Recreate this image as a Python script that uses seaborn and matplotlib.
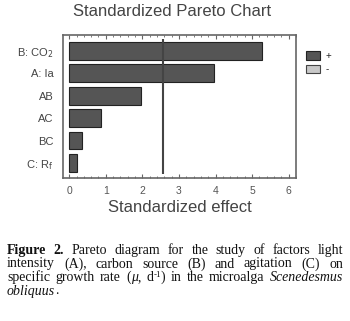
import matplotlib
matplotlib.use("Agg")
import matplotlib.pyplot as plt
from matplotlib.patches import Patch
from matplotlib.ticker import MultipleLocator
import seaborn as sns
import pandas as pd

# dados
fatores = ["B: CO$_2$", "A: Ia", "AB", "AC", "BC", "C: R$_\\mathrm{f}$"]
efeitos = [5.27, 3.95, 1.96, 0.88, 0.34, 0.21]
limite_critico = 2.57
xticks = [0, 1, 2, 3, 4, 5, 6]

sns.set_theme(style="white")
plt.rcParams['font.family'] = ['Liberation Sans', 'DejaVu Sans']

fig = plt.figure(figsize=(3.5, 3.21), dpi=100)
ax = fig.add_axes([63/350, 1 - 178/321, 233/350, 143/321])

df = pd.DataFrame({"fator": fatores, "efeito": efeitos})
sns.barplot(data=df, x="efeito", y="fator", orient="h", color="#555555",
            saturation=1, width=0.8, edgecolor="#222222", linewidth=0.8, ax=ax)

ax.vlines(limite_critico, -0.53, 5.49, color="#444444", lw=1.5)

ax.set_xlim(-0.17, 6.2)
ax.set_ylim(5.67, -0.7)
ax.set_xticks(xticks)
ax.xaxis.set_minor_locator(MultipleLocator(0.2))
ax.tick_params(axis="x", which="both", direction="in", top=True, bottom=True,
               color="#666666", labelsize=7.5, labelcolor="#555555", pad=6)
ax.tick_params(axis="x", which="major", length=3, width=0.8)
ax.tick_params(axis="x", which="minor", length=1.5, width=0.6)
ax.tick_params(axis="y", length=0, labelsize=8, labelcolor="#444444", pad=7)
for s in ax.spines.values():
    s.set_color("#666666")
    s.set_linewidth(1.2)

ax.set_ylabel("")
ax.set_xlabel("Standardized effect", fontsize=12, color="#444444", labelpad=3)
fig.text(172/350, 1 - 12/321, "Standardized Pareto Chart", fontsize=12,
         color="#444444", ha="center", va="center")

handles = [Patch(facecolor="#555555", edgecolor="#222222", lw=0.8),
           Patch(facecolor="#c8c8c8", edgecolor="#444444", lw=0.8)]
fig.legend(handles, ["+", "-"], loc="upper left",
           bbox_to_anchor=(301/350, 1 - 46/321), frameon=False, fontsize=7,
           handlelength=1.5, handleheight=1.0, labelspacing=0.35,
           borderpad=0, handletextpad=0.5)

# legenda da figura (texto justificado, palavra por palavra)
serif = ['Liberation Serif', 'DejaVu Serif']
normal = dict(family=serif, fontsize=10, color="#111111")
negrito = dict(normal, weight="bold")
italico = dict(normal, style="italic")
sobrescrito = dict(normal, fontsize=6.5)

# cada palavra: lista de (texto, estilo, deslocamento vertical em px)
N, B, I, S = normal, negrito, italico, sobrescrito
linhas = [
    ([[("Figure", B, 0)], [("2.", B, 0)], [("Pareto", N, 0)], [("diagram", N, 0)],
      [("for", N, 0)], [("the", N, 0)], [("study", N, 0)], [("of", N, 0)],
      [("factors", N, 0)], [("light", N, 0)]], True),
    ([[("intensity", N, 0)], [("(A),", N, 0)], [("carbon", N, 0)], [("source", N, 0)],
      [("(B)", N, 0)], [("and", N, 0)], [("agitation", N, 0)], [("(C)", N, 0)],
      [("on", N, 0)]], True),
    ([[("specific", N, 0)], [("growth", N, 0)], [("rate", N, 0)],
      [("(", N, 0), ("μ", I, 0), (",", N, 0)], [("d", N, 0), ("-1", S, 4), (")", N, 0)],
      [("in", N, 0)], [("the", N, 0)], [("microalga", N, 0)],
      [("Scenedesmus", I, 0)]], True),
    ([[("obliquus", I, 0), (".", N, 0)]], False),
]
y_linhas = [254, 267.5, 281, 294.5]
x0, x1 = 7, 343

renderer = fig.canvas.get_renderer()
for (palavras, justificar), yp in zip(linhas, y_linhas):
    pecas = []
    larguras = []
    for palavra in palavras:
        itens = []
        for txt, st, dy in palavra:
            t = fig.text(0, 1 - (yp - dy)/321, txt, va="baseline", ha="left", **st)
            itens.append((t, t.get_window_extent(renderer).width))
        pecas.append(itens)
        larguras.append(sum(w for _, w in itens))
    if justificar:
        gap = max((x1 - x0 - sum(larguras)) / (len(pecas) - 1), 2.0)
    else:
        gap = 0
    x = x0
    for itens, wtot in zip(pecas, larguras):
        xi = x
        for t, w in itens:
            t.set_x(xi / 350)
            xi += w
        x += wtot + gap

fig.savefig("out.png", dpi=100)
